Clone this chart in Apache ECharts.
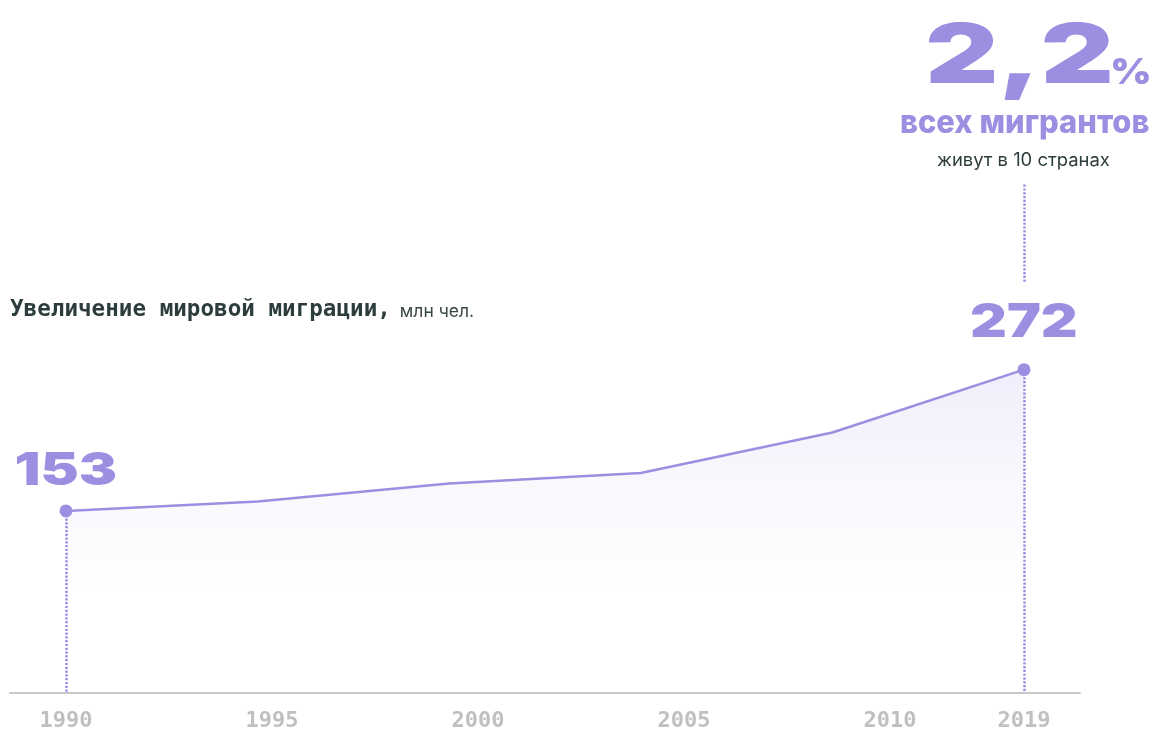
<!DOCTYPE html>
<html><head><meta charset="utf-8">
<script src="https://cdn.jsdelivr.net/npm/echarts@6/dist/echarts.min.js"></script>
<style>html,body{margin:0;padding:0;background:#fff}#c{width:1157px;height:732px}</style>
</head><body><div id="c"></div>
<script>
// ---- data ----
const years = ['1990', '1995', '2000', '2005', '2010', '2019'];
const migrants = [153, 161, 176, 185, 219, 272];
const tickLabels = ['1990', '1995', '2000', '2005', '2010', '2019'];
const titleText = 'Увеличение мировой миграции,';
const unitText = 'млн чел.';
const shareValue = '2,2';
const shareUnit = '%';
const shareLine1 = 'всех мигрантов';
const shareLine2 = 'живут в 10 странах';
const leaderRange = [346, 429];

// ---- styles ----
const PURPLE = '#9b8fe2';
const DARK = '#2d3c3c';
const GRAY = '#c0c0c0';
const BIG_FONT = '"Inter", "DejaVu Sans", sans-serif';

const mctx = document.createElement('canvas').getContext('2d');
function measure(text, font) {
  mctx.font = font; mctx.textBaseline = 'middle'; mctx.textAlign = 'left';
  const m = mctx.measureText(text);
  return { l: m.actualBoundingBoxLeft, r: m.actualBoundingBoxRight, a: m.actualBoundingBoxAscent, d: m.actualBoundingBoxDescent };
}
function fitText(text, font, color, x0, x1, y0, y1) {
  const m = measure(text, font);
  const sx = (x1 - x0) / (m.l + m.r);
  const sy = (y1 - y0) / (m.a + m.d);
  return {
    type: 'text', silent: true, x: x0 + sx * m.l, y: y0 + sy * m.a, scaleX: sx, scaleY: sy,
    style: { text: text, font: font, fill: color, x: 0, y: 0, align: 'left', textAlign: 'left', verticalAlign: 'middle', textVerticalAlign: 'middle' }
  };
}

const chart = echarts.init(document.getElementById('c'), null, { renderer: 'canvas' });
const last = years.length - 1;
const GRID_BOTTOM = 39.5, GRID_TOP = 99;

const option = {
  animation: false,
  backgroundColor: '#fff',
  title: {
    text: '{a|' + titleText + '}{b|' + unitText + '}',
    left: 10, top: 299, padding: 0,
    textStyle: {
      rich: {
        a: { fontFamily: 'DejaVu Sans Mono', fontWeight: 'bold', fontSize: 22.6, color: DARK },
        b: { fontFamily: 'Inter', fontWeight: 'normal', fontSize: 17.5, color: '#3a4646', padding: [2, 0, 0, 9] }
      }
    }
  },
  grid: [
    { left: 66, right: 133, top: GRID_TOP, bottom: GRID_BOTTOM },
    { left: 66, right: 61, top: GRID_TOP, bottom: GRID_BOTTOM },
    { left: 10, right: 77, top: GRID_TOP, bottom: GRID_BOTTOM }
  ],
  xAxis: [
    { type: 'category', gridIndex: 0, data: years, boundaryGap: false, show: false },
    {
      type: 'category', gridIndex: 1, data: tickLabels, boundaryGap: false,
      axisLine: { show: false }, axisTick: { show: false }, splitLine: { show: false },
      axisLabel: {
        interval: 0, margin: 19.5, color: GRAY, fontFamily: 'DejaVu Sans Mono', fontWeight: 'bold', fontSize: 22,
        formatter: function (v, i) { return i === tickLabels.length - 1 ? '{last|' + v + '}' : v; },
        rich: { last: { padding: [0, 144, 0, 0], color: GRAY, fontFamily: 'DejaVu Sans Mono', fontWeight: 'bold', fontSize: 22 } }
      }
    },
    {
      type: 'value', gridIndex: 2, min: 0, max: 1,
      axisLine: { show: true, lineStyle: { color: '#c8c8c8', width: 2 } },
      axisTick: { show: false }, axisLabel: { show: false }, splitLine: { show: false }
    }
  ],
  yAxis: [
    { type: 'value', gridIndex: 0, min: 0, max: 500, show: false },
    { type: 'value', gridIndex: 1, min: 0, max: 1, show: false },
    { type: 'value', gridIndex: 2, min: 0, max: 1, show: false }
  ],
  series: [{
    type: 'line', xAxisIndex: 0, yAxisIndex: 0,
    data: migrants,
    symbol: 'circle',
    symbolSize: function (v, p) { return (p.dataIndex === 0 || p.dataIndex === last) ? 13 : 0; },
    itemStyle: { color: PURPLE },
    lineStyle: { color: PURPLE, width: 2.5 },
    areaStyle: {
      color: new echarts.graphic.LinearGradient(0, 0, 0, 1, [
        { offset: 0, color: 'rgba(155,143,226,0.22)' },
        { offset: 0.35, color: 'rgba(155,143,226,0.09)' },
        { offset: 0.7, color: 'rgba(155,143,226,0)' }
      ])
    },
    emphasis: { disabled: true },
    z: 3,
    markLine: {
      silent: true, symbol: 'none', animation: false,
      label: { show: false },
      emphasis: { disabled: true },
      lineStyle: { color: '#9a8ce6', width: 2.5, type: [2.2, 1.6], opacity: 1 },
      data: [
        [{ coord: [0, migrants[0]] }, { coord: [0, 0] }],
        [{ coord: [last, migrants[last]] }, { coord: [last, 0] }],
        [{ coord: [last, leaderRange[0]] }, { coord: [last, leaderRange[1]] }]
      ]
    }
  }]
};
chart.setOption(option);

// text annotations
const graphics = [];
graphics.push(fitText(shareValue, '900 80px ' + BIG_FONT, PURPLE, 928, 1110, 22, 100));
graphics.push(fitText(shareUnit, '900 30px ' + BIG_FONT, PURPLE, 1113, 1150, 58, 84));
graphics.push(fitText(shareLine1, '800 30px ' + BIG_FONT, PURPLE, 901, 1149, 115, 140));
graphics.push(fitText(shareLine2, '400 18px ' + BIG_FONT, DARK, 937, 1110, 152, 170));

// value labels above first and last points
const labelIdx = [0, last];
const labelGap = [26, 33];
const labelSize = [[100, 33], [105, 34]];
labelIdx.forEach(function (idx, k) {
  const p = chart.convertToPixel({ seriesIndex: 0 }, [idx, migrants[idx]]);
  const w = labelSize[k][0], h = labelSize[k][1];
  const bottom = p[1] - labelGap[k];
  graphics.push(fitText(String(migrants[idx]), '900 40px ' + BIG_FONT, PURPLE, p[0] - w / 2, p[0] + w / 2, bottom - h, bottom));
});
chart.setOption({ graphic: { elements: graphics } });
</script>
</body></html>
